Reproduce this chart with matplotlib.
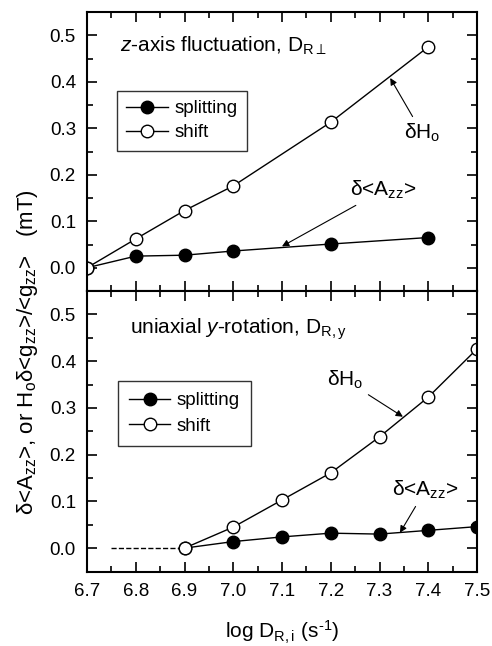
import numpy as np
import matplotlib
matplotlib.use('Agg')
import matplotlib.pyplot as plt
from matplotlib.ticker import MultipleLocator

plt.rcParams['font.family'] = ['Liberation Sans', 'DejaVu Sans']
plt.rcParams['mathtext.fontset'] = 'custom'
plt.rcParams['mathtext.rm'] = 'Liberation Sans'
plt.rcParams['mathtext.it'] = 'Liberation Sans:italic'
plt.rcParams['mathtext.bf'] = 'Liberation Sans:bold'
plt.rcParams['axes.unicode_minus'] = False

# top panel: z-axis fluctuation
x_top = [6.7, 6.8, 6.9, 7.0, 7.2, 7.4]
split_top = [0.0, 0.025, 0.027, 0.036, 0.051, 0.065]
shift_top = [0.0, 0.062, 0.123, 0.176, 0.313, 0.475]

# bottom panel: uniaxial y-rotation
x_bot = [6.9, 7.0, 7.1, 7.2, 7.3, 7.4, 7.5]
split_bot = [0.0, 0.014, 0.024, 0.032, 0.030, 0.038, 0.046]
shift_bot = [0.0, 0.045, 0.103, 0.161, 0.238, 0.323, 0.426]
dash_x = [6.75, 6.9]
dash_y = [0.0, 0.0]

W, H = 492, 646
fig = plt.figure(figsize=(W / 100, H / 100), dpi=100)
ax1 = fig.add_axes([87 / W, (H - 291) / H, 390 / W, 279 / H])
ax2 = fig.add_axes([87 / W, (H - 571.5) / H, 390 / W, 280.5 / H])

fs = 13.5
tfs = 15
for ax in (ax1, ax2):
    ax.set_xlim(6.7, 7.5)
    ax.set_ylim(-0.05, 0.55)
    ax.xaxis.set_major_locator(MultipleLocator(0.1))
    ax.xaxis.set_minor_locator(MultipleLocator(0.05))
    ax.yaxis.set_major_locator(MultipleLocator(0.1))
    ax.yaxis.set_minor_locator(MultipleLocator(0.05))
    ax.tick_params(which='both', direction='in', top=True, right=True, labelsize=fs, width=1.2, pad=8)
    ax.tick_params(which='major', length=7)
    ax.tick_params(which='minor', length=4)
    for s in ax.spines.values():
        s.set_linewidth(1.5)
    ax.set_yticks([0.0, 0.1, 0.2, 0.3, 0.4, 0.5])
    ax.set_yticklabels(['0.0', '0.1', '0.2', '0.3', '0.4', '0.5'])

ax1.tick_params(labelbottom=False)

mk = dict(markersize=9, markeredgecolor='black', markeredgewidth=1.0, color='black', lw=1.0)
arr = dict(arrowstyle='-|>', lw=0.8, color='black', mutation_scale=10, shrinkA=2, shrinkB=0)

ax1.plot(x_top, split_top, marker='o', markerfacecolor='black', label='splitting', **mk)
ax1.plot(x_top, shift_top, marker='o', markerfacecolor='white', label='shift', **mk)
ax1.legend(loc='upper left', bbox_to_anchor=(0.077, 0.717), fontsize=fs, frameon=True,
           fancybox=False, edgecolor='black', handlelength=2.2, handletextpad=0.35,
           borderpad=0.5, labelspacing=0.35, borderaxespad=0).get_frame().set_linewidth(1.0)
ax1.text(6.768, 0.478, r'$z$-axis fluctuation, D$_{\mathrm{R}\perp}$', fontsize=tfs, va='center')
ax1.annotate(r'δH$_\mathrm{o}$', xy=(7.322, 0.408), xytext=(7.35, 0.29),
             fontsize=tfs, va='center', arrowprops=arr)
ax1.annotate(r'δ<A$_\mathrm{zz}$>', xy=(7.1, 0.046), xytext=(7.24, 0.167),
             fontsize=tfs, va='center', arrowprops=arr)

ax2.plot(dash_x, dash_y, ls='--', color='black', lw=1.0)
ax2.plot(x_bot, split_bot, marker='o', markerfacecolor='black', label='splitting', **mk)
ax2.plot(x_bot, shift_bot, marker='o', markerfacecolor='white', label='shift', **mk)
ax2.legend(loc='upper left', bbox_to_anchor=(0.079, 0.679), fontsize=fs, frameon=True,
           fancybox=False, edgecolor='black', handlelength=2.2, handletextpad=0.35,
           borderpad=0.6, labelspacing=0.45, borderaxespad=0).get_frame().set_linewidth(1.0)
ax2.text(6.788, 0.468, r'uniaxial $y$-rotation, D$_{\mathrm{R,y}}$', fontsize=tfs, va='center')
ax2.annotate(r'δH$_\mathrm{o}$', xy=(7.348, 0.281), xytext=(7.192, 0.36),
             fontsize=tfs, va='center', arrowprops=arr)
ax2.annotate(r'δ<A$_\mathrm{zz}$>', xy=(7.342, 0.033), xytext=(7.326, 0.124),
             fontsize=tfs, va='center', arrowprops=arr)

ax2.set_xticks([6.7, 6.8, 6.9, 7.0, 7.1, 7.2, 7.3, 7.4, 7.5])
ax2.set_xticklabels(['6.7', '6.8', '6.9', '7.0', '7.1', '7.2', '7.3', '7.4', '7.5'])
ax2.set_xlabel(r'log D$_\mathrm{R,i}$ (s$^{\text{-1}}$)', fontsize=tfs, labelpad=14)

fig.text(28 / W, 1 - 352 / H,
         r'δ<A$_\mathrm{zz}$>, or H$_\mathrm{o}$δ<g$_\mathrm{zz}$>/<g$_\mathrm{zz}$>   (mT)',
         rotation=90, ha='center', va='center', fontsize=16)

fig.savefig('out.png', dpi=100)
